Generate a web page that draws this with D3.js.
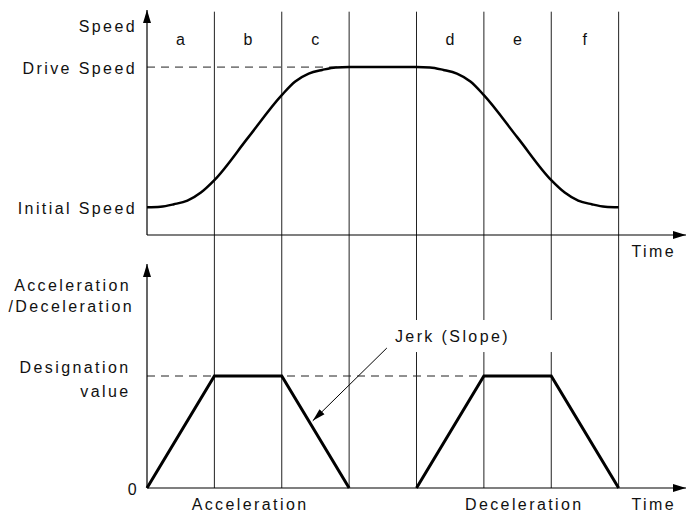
<!DOCTYPE html>
<html>
<head>
<meta charset="utf-8">
<script src="https://cdn.jsdelivr.net/npm/d3@7"></script>
<style>
  body { margin: 0; background: #fff; }
  text { font-family: "Liberation Sans", Arial, sans-serif; font-size: 16px; letter-spacing: 2.4px; fill: #111; }
</style>
</head>
<body>
<svg id="chart" width="691" height="516"></svg>
<script>
// phase labels, one per time unit
const phaseLabels = ['a', 'b', 'c', '', 'd', 'e', 'f'];
const phaseEdges = [1, 2, 3, 4, 5, 6, 7];

// speed curve (speed in % of drive speed)
const speedTime  = [0, 0.2, 0.4, 0.6, 0.8, 1, 1.5, 2, 2.2, 2.4, 2.6, 2.8, 3, 4, 4.2, 4.4, 4.6, 4.8, 5, 5.5, 6, 6.2, 6.4, 6.6, 6.8, 7];
const speedValue = [16.5, 16.8, 18.3, 20.5, 25.3, 32.7, 58, 83.3, 91.4, 96.1, 98.3, 99.8, 100, 100, 99.8, 98.3, 96.1, 91.4, 83.3, 58, 32.7, 25.3, 20.5, 18.3, 16.8, 16.5];
const driveSpeed = 100;
const initialSpeed = 16.5;
const speedTicks = [driveSpeed, initialSpeed];
const speedTickLabels = ['Drive Speed', 'Initial Speed'];

// acceleration and deceleration ramps (designation value = 1)
const accelTime  = [0, 1, 2, 3];
const accelValue = [0, 1, 1, 0];
const decelTime  = [4, 5, 6, 7];
const decelValue = [0, 1, 1, 0];
const designation = 1;

const svg = d3.select('#chart');

// scales
const x = d3.scaleLinear().domain([0, 8]).range([147, 686]);
const ySpeed = d3.scaleLinear().domain([0, 134]).range([235, 10]);
const yAcc = d3.scaleLinear().domain([0, 2]).range([488, 264]);

// arrow heads
const defs = svg.append('defs');
defs.append('marker')
    .attr('id', 'axisArrow')
    .attr('markerUnits', 'userSpaceOnUse')
    .attr('viewBox', '0 -4 13 8')
    .attr('refX', 13).attr('refY', 0)
    .attr('markerWidth', 13).attr('markerHeight', 8)
    .attr('orient', 'auto')
    .append('path').attr('d', 'M0,-4L13,0L0,4Z').attr('fill', '#000');
defs.append('marker')
    .attr('id', 'leadArrow')
    .attr('markerUnits', 'userSpaceOnUse')
    .attr('viewBox', '0 -4 13 8')
    .attr('refX', 13).attr('refY', 0)
    .attr('markerWidth', 13).attr('markerHeight', 8)
    .attr('orient', 'auto')
    .append('path').attr('d', 'M0,-3.5L13,0L0,3.5Z').attr('fill', '#000');

// vertical phase boundaries through both panels
svg.append('g')
    .selectAll('line')
    .data(phaseEdges)
    .join('line')
    .attr('x1', d => x(d)).attr('x2', d => x(d))
    .attr('y1', ySpeed(133)).attr('y2', yAcc(0))
    .attr('stroke', '#222')
    .attr('stroke-width', 1);

// phase letters
svg.append('g')
    .selectAll('text')
    .data(phaseLabels)
    .join('text')
    .attr('x', (d, i) => x(i + 0.5) + 1)
    .attr('y', ySpeed(113))
    .attr('text-anchor', 'middle')
    .text(d => d);

// dashed reference lines
svg.append('line')
    .attr('x1', x(0)).attr('x2', x(3))
    .attr('y1', ySpeed(driveSpeed)).attr('y2', ySpeed(driveSpeed))
    .attr('stroke', '#222').attr('stroke-dasharray', '8,6');
svg.append('line')
    .attr('x1', x(0)).attr('x2', x(5))
    .attr('y1', yAcc(designation)).attr('y2', yAcc(designation))
    .attr('stroke', '#222').attr('stroke-dasharray', '8,6');

// speed curve
const speedLine = d3.line()
    .x((d, i) => x(speedTime[i]))
    .y(d => ySpeed(d))
    .curve(d3.curveMonotoneX);
svg.append('path')
    .datum(speedValue)
    .attr('fill', 'none')
    .attr('stroke', '#000')
    .attr('stroke-width', 2.5)
    .attr('d', speedLine);

// acceleration trapezoids
[[accelTime, accelValue], [decelTime, decelValue]].forEach(([times, values]) => {
    const rampLine = d3.line()
        .x((d, i) => x(times[i]))
        .y(d => yAcc(d));
    svg.append('path')
        .datum(values)
        .attr('fill', 'none')
        .attr('stroke', '#000')
        .attr('stroke-width', 3)
        .attr('d', rampLine);
});

// axes with arrows
function axisLines(yScale, yTop) {
    svg.append('line')
        .attr('x1', x(0)).attr('x2', x(0))
        .attr('y1', yScale(0)).attr('y2', yTop)
        .attr('stroke', '#000').attr('stroke-width', 1.2)
        .attr('marker-end', 'url(#axisArrow)');
    svg.append('line')
        .attr('x1', x(0)).attr('x2', x(8))
        .attr('y1', yScale(0)).attr('y2', yScale(0))
        .attr('stroke', '#000').attr('stroke-width', 1.2)
        .attr('marker-end', 'url(#axisArrow)');
}
axisLines(ySpeed, ySpeed(134));
axisLines(yAcc, yAcc(2));

// speed tick labels
const speedAxis = svg.append('g')
    .attr('transform', `translate(${x(0)},0)`)
    .call(d3.axisLeft(ySpeed)
        .tickValues(speedTicks)
        .tickSize(0)
        .tickPadding(10)
        .tickFormat((d, i) => speedTickLabels[i]));
speedAxis.select('.domain').remove();
speedAxis.attr('font-size', null).attr('font-family', null);
speedAxis.selectAll('text').attr('dy', '0.38em');

// acceleration tick labels
const accAxis = svg.append('g')
    .attr('transform', `translate(${x(0)},0)`)
    .call(d3.axisLeft(yAcc)
        .tickValues([0])
        .tickSize(0)
        .tickPadding(8)
        .tickFormat(d => d));
accAxis.select('.domain').remove();
accAxis.attr('font-size', null).attr('font-family', null);
accAxis.selectAll('text').attr('dy', '0.38em');

const desig = svg.append('text')
    .attr('text-anchor', 'end')
    .attr('y', yAcc(designation));
desig.append('tspan').attr('x', x(0) - 16.5).attr('dy', '-0.2em').text('Designation');
desig.append('tspan').attr('x', x(0) - 16.5).attr('dy', '1.5em').text('value');

// axis titles
svg.append('text')
    .attr('x', x(0) - 10).attr('y', ySpeed(121))
    .attr('text-anchor', 'end')
    .text('Speed');
const accTitle = svg.append('text')
    .attr('text-anchor', 'end')
    .attr('y', yAcc(1.76));
accTitle.append('tspan').attr('x', x(0) - 16).text('Acceleration');
accTitle.append('tspan').attr('x', x(0) - 13).attr('dy', '1.3em').text('/Deceleration');

svg.append('text')
    .attr('x', x(7.19)).attr('y', ySpeed(-13))
    .text('Time');
svg.append('text')
    .attr('x', x(7.19)).attr('y', yAcc(-0.2))
    .text('Time');

// phase group labels under the time axis
svg.append('text')
    .attr('x', x(1.53)).attr('y', yAcc(-0.2))
    .attr('text-anchor', 'middle')
    .text('Acceleration');
svg.append('text')
    .attr('x', x(5.6)).attr('y', yAcc(-0.2))
    .attr('text-anchor', 'middle')
    .text('Deceleration');

// jerk annotation
svg.append('rect')
    .attr('x', x(3.6)).attr('width', x(6.2) - x(3.6))
    .attr('y', yAcc(1.5)).attr('height', yAcc(1.214) - yAcc(1.5))
    .attr('fill', '#fff');
svg.append('text')
    .attr('x', x(3.68)).attr('y', yAcc(1.306))
    .text('Jerk (Slope)');
svg.append('line')
    .attr('x1', x(3.56)).attr('y1', yAcc(1.25))
    .attr('x2', x(2.46)).attr('y2', yAcc(0.6))
    .attr('stroke', '#000').attr('stroke-width', 1)
    .attr('marker-end', 'url(#leadArrow)');
</script>
</body>
</html>
